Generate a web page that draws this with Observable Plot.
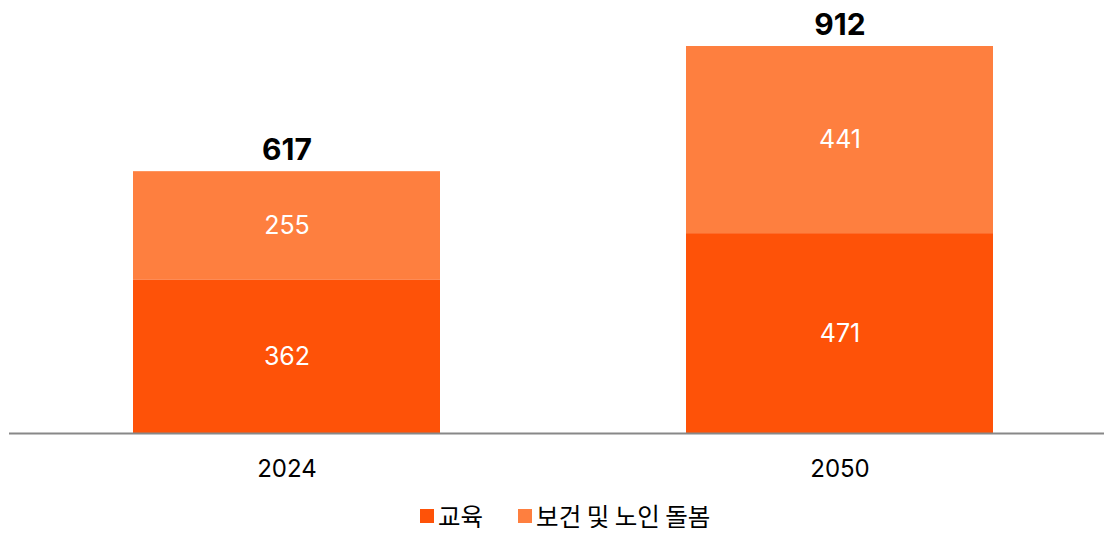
<!DOCTYPE html>
<html><head><meta charset="utf-8">
<script src="https://cdn.jsdelivr.net/npm/d3@7"></script>
<script src="https://cdn.jsdelivr.net/npm/@observablehq/plot@0.6"></script>
<style>
body{margin:0;background:#fff;font-family:Inter,"Noto Sans CJK KR",sans-serif;overflow:hidden;}
#legend{display:flex;align-items:center;margin-left:420px;margin-top:12px;height:24px;line-height:24px;font-size:24.5px;font-family:"Noto Sans CJK KR",Inter,sans-serif;color:#000;}
.sw{width:14px;height:14px;display:inline-block;margin-right:4px;}
.item{display:flex;align-items:center;margin-right:35px;}
</style></head><body>
<div id="chart"></div>
<div id="legend"></div>
<script>
const years = ["2024", "2050"];
const seriesNames = ["교육", "보건 및 노인 돌봄"];
const education = [362, 471];
const healthCare = [255, 441];
const totals = [617, 912];
const colors = ["#fe5208", "#fe7f3f"];

const data = [];
years.forEach((y, i) => {
  data.push({year: y, series: seriesNames[0], value: education[i]});
  data.push({year: y, series: seriesNames[1], value: healthCare[i]});
});
const totalData = years.map((y, i) => ({year: y, total: totals[i]}));

const chart = Plot.plot({
  width: 1104,
  height: 492,
  marginLeft: 9,
  marginRight: 0,
  marginTop: 0,
  marginBottom: 59,
  style: {fontFamily: "Inter, sans-serif", background: "#fff"},
  x: {domain: years, range: [9, 1117], paddingInner: 0.445, paddingOuter: 0.224, label: null},
  y: {domain: [0, 912], range: [433, 46], axis: null},
  color: {domain: seriesNames, range: colors},
  marks: [
    Plot.barY(data, Plot.stackY({x: "year", y: "value", fill: "series", order: seriesNames})),
    Plot.text(data, Plot.stackY({x: "year", y: "value", z: "series", order: seriesNames, text: d => String(d.value), fill: "white", fontSize: 25})),
    Plot.text(totalData, {x: "year", y: "total", text: d => String(d.total), dy: -21, fontSize: 30, fontWeight: "bold", fill: "#000"}),
    Plot.ruleY([0], {stroke: "#888", strokeWidth: 2}),
    Plot.axisX({tickSize: 0, tickPadding: 26, fontSize: 24, fill: "#000", label: null})
  ]
});
document.getElementById("chart").appendChild(chart);

const legend = document.getElementById("legend");
seriesNames.forEach((n, i) => {
  const it = document.createElement("span");
  it.className = "item";
  it.innerHTML = `<span class="sw" style="background:${colors[i]}"></span><span>${n}</span>`;
  legend.appendChild(it);
});
</script>
</body></html>
